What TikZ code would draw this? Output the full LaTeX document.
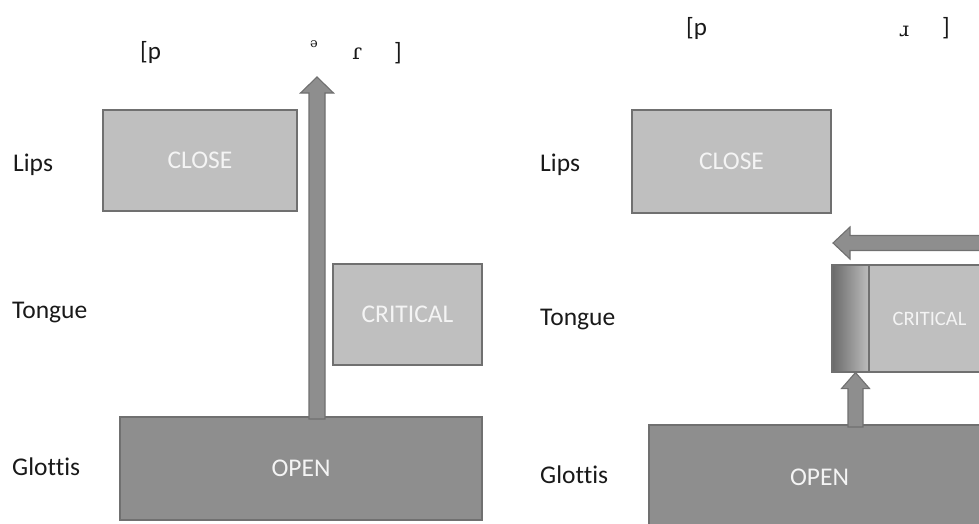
\documentclass[tikz,border=0pt]{standalone}
\usepackage{fontspec}
\setmainfont{Carlito}[Ligatures=NoCommon]
\newfontfamily\ipafont{DejaVu Serif}
\usetikzlibrary{calc}
\definecolor{lightfill}{HTML}{BFBFBF}
\definecolor{darkfill}{HTML}{8E8E8E}
\definecolor{edgegray}{HTML}{707070}
\definecolor{boxtext}{HTML}{F4F4F4}
\definecolor{glidedark}{HTML}{6A6A6A}
\definecolor{glidelight}{HTML}{BDBDBD}
\tikzset{
  gesture/.style={draw=edgegray, line width=1.1pt, text=boxtext, inner sep=0pt,
    font=\fontsize{25.5}{30}\selectfont},
  lightgest/.style={gesture, fill=lightfill},
  darkgest/.style={gesture, fill=darkfill},
  tierlabel/.style={anchor=west, inner sep=0pt, text=black!90, font=\fontsize{25.5}{30}\selectfont},
  transc/.style={inner sep=0pt, text=black!90, font=\fontsize{25}{30}\selectfont},
  blockarrow/.style={draw=edgegray, line width=1.1pt, fill=darkfill, line join=miter},
}
\begin{document}
\begin{tikzpicture}[x=1pt,y=-1pt]
\clip (0,0) rectangle (979,523);
\fill[white] (0,0) rectangle (979,523);

% ---------------- left panel ----------------
\node[tierlabel] (lipsL) at (13,165) {Lips};
\node[tierlabel] (tongueL) at (12,313) {Tongue};
\node[tierlabel] (glottisL) at (12,467) {Glottis};

\node[lightgest, minimum width=194, minimum height=101] (closeL) at (200,160.5) {CLOSE};
\node[lightgest, minimum width=149, minimum height=101] (critL) at (407.5,314.5) {CRITICAL};
\node[darkgest, minimum width=362, minimum height=103] (openL) at (301,468.5) {OPEN};

\coordinate (aLbase) at (317,419);
\coordinate (aLtip) at (317,77);
\draw[blockarrow] let \p1=(aLbase), \p2=(aLtip) in
  (\x1-8pt,\y1) -- (\x1-8pt,\y2-16pt) -- (\x1-16.5pt,\y2-16pt) -- (\x1,\y2)
  -- (\x1+16.5pt,\y2-16pt) -- (\x1+8pt,\y2-16pt) -- (\x1+8pt,\y1) -- cycle;

\node[transc, anchor=west] (pL) at (140,52) {[p};
\node[transc, font=\ipafont\fontsize{13}{15}\selectfont] (schwaL) at (314,44) {ə};
\node[transc, font=\ipafont\fontsize{22}{26}\selectfont] (tapL) at (357,54) {ɾ};
\node[transc] (brL) at (398,53) {]};

% ---------------- right panel ----------------
\node[tierlabel] (lipsR) at (540,165) {Lips};
\node[tierlabel] (tongueR) at (540,320) {Tongue};
\node[tierlabel] (glottisR) at (540,475) {Glottis};

\node[lightgest, minimum width=199, minimum height=103] (closeR) at (731.5,161.5) {CLOSE};
\node[lightgest, minimum width=121, minimum height=107,
      font=\fontsize{20.5}{24}\selectfont] (critR) at (929.5,318.5) {CRITICAL};
\node[draw=edgegray, line width=1.1pt, left color=glidedark, right color=glidelight,
      minimum width=37, minimum height=107, inner sep=0pt] (glideR) at (850.5,318.5) {};
\node[darkgest, minimum width=341, minimum height=105] (openR) at (819.5,477.5) {OPEN};

% up arrow from glottis to tongue gesture
\coordinate (aRbase) at (855.5,427);
\coordinate (aRtip) at ($(glideR.south)+(5,0)$);
\draw[blockarrow] let \p1=(aRbase), \p2=(aRtip) in
  (\x1-7.5pt,\y1) -- (\x1-7.5pt,\y2-16pt) -- (\x1-14pt,\y2-16pt) -- (\x1,\y2)
  -- (\x1+14pt,\y2-16pt) -- (\x1+7.5pt,\y2-16pt) -- (\x1+7.5pt,\y1) -- cycle;

% leftward arrow above tongue gesture
\coordinate (hBase) at (992,243);
\coordinate (hTip) at (833,243);
\draw[blockarrow] let \p1=(hBase), \p2=(hTip) in
  (\x1,\y1+7.5pt) -- (\x2+17pt,\y1+7.5pt) -- (\x2+17pt,\y1+16pt) -- (\x2,\y1)
  -- (\x2+17pt,\y1-16pt) -- (\x2+17pt,\y1-7.5pt) -- (\x1,\y1-7.5pt) -- cycle;

\node[transc, anchor=west] (pR) at (686,28) {[p};
\node[transc, font=\ipafont\fontsize{20}{24}\selectfont] (rR) at (904,31) {ɹ};
\node[transc] (brR) at (946,28) {]};
\end{tikzpicture}
\end{document}
